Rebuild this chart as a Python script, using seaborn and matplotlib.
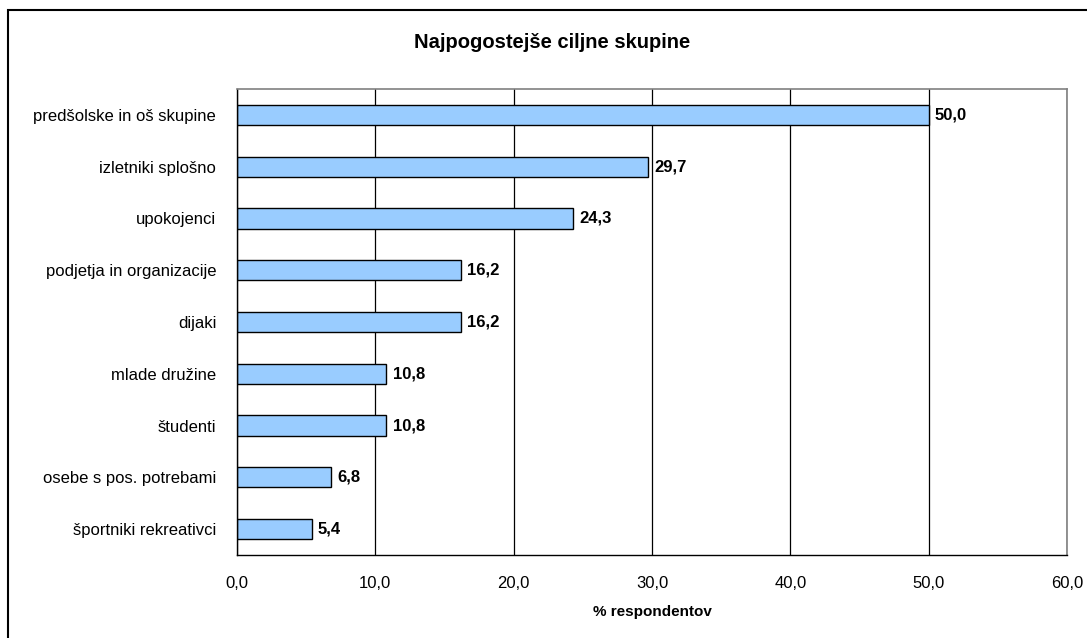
import matplotlib
matplotlib.use("Agg")
import matplotlib.pyplot as plt
import seaborn as sns
import pandas as pd
from matplotlib.patches import Rectangle
from matplotlib.ticker import MultipleLocator, FuncFormatter

skupine = ["predšolske in oš skupine", "izletniki splošno", "upokojenci",
           "podjetja in organizacije", "dijaki", "mlade družine", "študenti",
           "osebe s pos. potrebami", "športniki rekreativci"]
odstotki = [50.0, 29.7, 24.3, 16.2, 16.2, 10.8, 10.8, 6.8, 5.4]

df = pd.DataFrame({"skupina": skupine, "odstotek": odstotki})

sns.set_style("white")
plt.rcParams["font.family"] = ["Liberation Sans", "DejaVu Sans"]
plt.rcParams["text.color"] = "black"
plt.rcParams["xtick.color"] = "black"
plt.rcParams["ytick.color"] = "black"
plt.rcParams["axes.labelcolor"] = "black"

W, H = 1087, 638
fig = plt.figure(figsize=(W / 100, H / 100), dpi=100)
ax = fig.add_axes([237 / W, 1 - 555 / H, (1067 - 237) / W, (555 - 89) / H])

sns.barplot(data=df, x="odstotek", y="skupina", orient="h", color="#99CCFF",
            edgecolor="black", linewidth=1, width=0.39, saturation=1, ax=ax)

ax.set_xlim(0, 60)
ax.set_ylim(len(skupine) - 0.5, -0.5)
ax.xaxis.set_major_locator(MultipleLocator(10))
ax.xaxis.set_major_formatter(FuncFormatter(lambda v, p: f"{v:.1f}".replace(".", ",")))
ax.grid(axis="x", color="black", linewidth=0.9)
ax.set_axisbelow(True)

# ticks between categories on y axis
ax.set_yticks(range(len(skupine)))
ax.set_yticklabels(skupine, fontsize=12)
ax.set_yticks([i + 0.5 for i in range(-1, len(skupine))], minor=True)
ax.tick_params(axis="y", which="major", length=0, pad=15)
ax.tick_params(axis="y", which="minor", length=5, width=1, color="black", direction="out")
ax.tick_params(axis="x", which="major", length=5, width=1, color="black", direction="out",
               labelsize=12, pad=10)

for s in ["left", "bottom"]:
    ax.spines[s].set_color("black")
    ax.spines[s].set_linewidth(1)
for s in ["top", "right"]:
    ax.spines[s].set_color("#808080")
    ax.spines[s].set_linewidth(1.2)

for i, v in enumerate(odstotki):
    ax.text(v + 0.45, i, f"{v:.1f}".replace(".", ","), va="center", ha="left",
            fontsize=12, fontweight="bold")

ax.set_ylabel("")
ax.set_xlabel("")
fig.text(652 / W, 1 - 612 / H, "% respondentov", ha="center", va="center",
         fontsize=11, fontweight="bold")
fig.text(552 / W, 1 - 43 / H, "Najpogostejše ciljne skupine", ha="center", va="center",
         fontsize=14.5, fontweight="bold")

# chart border, cut off at right and bottom like the reference
fig.patches.append(Rectangle((8 / W, -0.05), 1.1, 1.05 - 10 / H,
                             transform=fig.transFigure, fill=False,
                             edgecolor="black", linewidth=1.5))

fig.savefig("out.png", dpi=100)
